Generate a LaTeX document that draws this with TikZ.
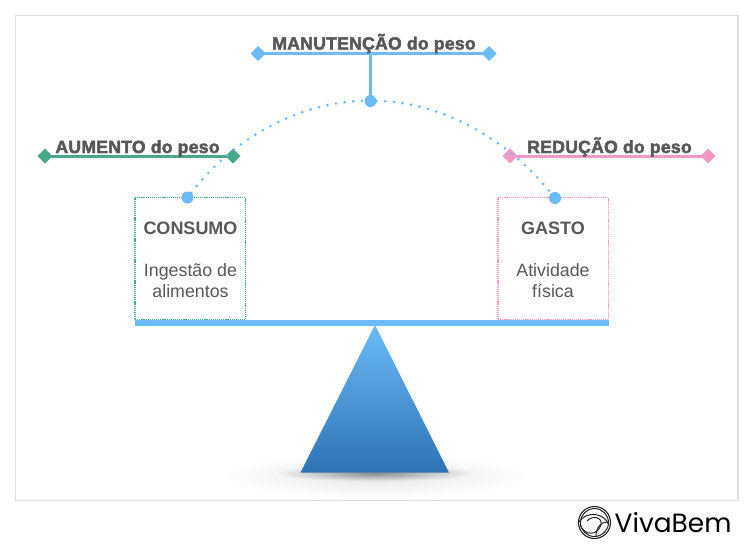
\documentclass[tikz,border=0pt]{standalone}
\usepackage{fontspec}
\setmainfont{Liberation Sans}
\newfontfamily\headfont[FakeBold=2.5,LetterSpace=1.5]{Liberation Sans Bold}
\newfontfamily\logofont{Poppins}
\usetikzlibrary{shapes.geometric,calc}
\definecolor{bluec}{HTML}{6CBBF8}
\definecolor{greenc}{HTML}{4AA88A}
\definecolor{pinkc}{HTML}{F29AC6}
\definecolor{textc}{HTML}{58585A}
\definecolor{framec}{HTML}{DEDEDE}
\definecolor{tritop}{HTML}{6CBBF5}
\definecolor{tribot}{HTML}{2E72B4}
\tikzset{
  x=1pt,y=-1pt,
  dia/.style={diamond,fill=#1,draw=none,inner sep=0pt,outer sep=0pt,minimum width=15pt,minimum height=15pt},
  ball/.style={circle,fill=bluec,draw=none,inner sep=0pt,outer sep=0pt,minimum size=12pt},
  barline/.style={draw=#1,line width=3pt},
  dotarc/.style={draw=bluec,line width=2.9pt,line cap=round,dash pattern=on 0pt off 8.7pt},
  headtext/.style={text=textc,font=\headfont\fontsize{17.6}{20}\selectfont,inner sep=0pt,anchor=base},
  boxtitle/.style={text=textc,font=\bfseries\fontsize{18}{20}\selectfont,inner sep=0pt,anchor=base},
  boxtext/.style={text=textc,font=\fontsize{17.8}{20}\selectfont,inner sep=0pt,anchor=base},
  dotbox/.style={draw=#1,line width=1.5pt,dash pattern=on 1.2pt off 0.9pt,fill=white,inner sep=0pt,outer sep=0pt,anchor=north west,minimum width=110.5pt,minimum height=122.5pt},
}
\begin{document}
\begin{tikzpicture}
\useasboundingbox (0,0) rectangle (750,552);
\fill[white] (0,0) rectangle (750,552);
\draw[framec,line width=1.4pt,fill=white] (15.5,15.5) rectangle (738,500.5);
% shadow
\shade[inner color=black!9,outer color=white] (375,476) ellipse [x radius=160,y radius=22];
\shade[inner color=black!50,outer color=black!3,opacity=0.9] (375,473) ellipse [x radius=100,y radius=9];
% boxes
\node[dotbox=greenc] (boxL) at (135,197.5) {};
\node[dotbox=pinkc] (boxR) at (498,197.5) {};
% beam
\node[fill=bluec,inner sep=0pt,minimum width=474pt,minimum height=6pt,anchor=north west] (beam) at (135,320) {};
% fulcrum
\coordinate (apex) at (375,325);
\coordinate (baseL) at (300.5,472.5);
\coordinate (baseR) at (449,472.5);
\shade[top color=tritop,bottom color=tribot] (apex) -- (baseR) -- (baseL) -- cycle;
% top bars
\node[dia=bluec] (mL) at (258,53.5) {};
\node[dia=bluec] (mR) at (489,53.5) {};
\node[dia=greenc] (aL) at (45,156) {};
\node[dia=greenc] (aR) at (233,156) {};
\node[dia=pinkc] (rL) at (510,156) {};
\node[dia=pinkc] (rR) at (708,156) {};
\draw[barline=bluec] (mL.center) -- (mR.center);
\draw[barline=greenc] (aL.center) -- (aR.center);
\draw[barline=pinkc] (rL.center) -- (rR.center);
% balls
\node[ball] (top) at (370.5,101) {};
\node[ball] (bL) at (187.5,197.5) {};
\node[ball] (bR) at (555,198) {};
\coordinate (mM) at (370.5,53.5);
\draw[draw=bluec,line width=2.6pt] (mM) -- (top);
\draw[dotarc] (bL) .. controls (240,130) and (310,101) .. (top);
\draw[dotarc] (top) .. controls (430,101) and (500,130) .. (bR);
% labels
\node[headtext] (tM) at (374,49.5) {MANUTENÇÃO do peso};
\node[headtext] (tA) at (137.5,153) {AUMENTO do peso};
\node[headtext] (tR) at (609.5,153) {REDUÇÃO do peso};
\node[boxtitle] (c1) at (190.5,234) {CONSUMO};
\node[boxtext] (c2) at (190.5,276) {Ingestão de};
\node[boxtext] (c3) at (190.5,297) {alimentos};
\node[boxtitle] (g1) at (553,234) {GASTO};
\node[boxtext] (g2) at (553,276) {Atividade};
\node[boxtext] (g3) at (553,297) {física};
% logo
\coordinate (lg) at (594.5,522.5);
\draw[black!85,line width=1.1pt] (lg) circle [radius=16];
\draw[black!85,line width=1pt] (lg) circle [radius=14];
\draw[black!85,line width=1pt] (579,522) .. controls (586,511) and (604,512) .. (609,525);
\draw[black!85,line width=1pt] (580,525) .. controls (585,536) and (597,536) .. (601,525) .. controls (603,517) and (592,515) .. (587,521);
\draw[black!85,line width=1pt] (596,536) .. controls (596,527) and (602,521) .. (608,522);
\node[text=black,font=\logofont\fontsize{26.4}{30}\selectfont,inner sep=0pt,anchor=base west] (logo) at (614.5,532.5) {VivaBem};
\end{tikzpicture}
\end{document}
